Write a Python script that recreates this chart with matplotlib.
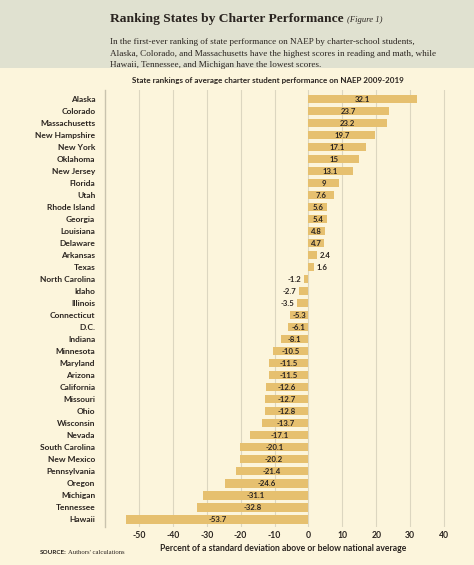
import matplotlib.pyplot as plt

states = ["Alaska", "Colorado", "Massachusetts", "New Hampshire", "New York", "Oklahoma",
          "New Jersey", "Florida", "Utah", "Rhode Island", "Georgia", "Louisiana",
          "Delaware", "Arkansas", "Texas", "North Carolina", "Idaho", "Illinois",
          "Connecticut", "D.C.", "Indiana", "Minnesota", "Maryland", "Arizona",
          "California", "Missouri", "Ohio", "Wisconsin", "Nevada", "South Carolina",
          "New Mexico", "Pennsylvania", "Oregon", "Michigan", "Tennessee", "Hawaii"]
scores = [32.1, 23.7, 23.2, 19.7, 17.1, 15, 13.1, 9, 7.6, 5.6, 5.4, 4.8, 4.7, 2.4, 1.6,
          -1.2, -2.7, -3.5, -5.3, -6.1, -8.1, -10.5, -11.5, -11.5, -12.6, -12.7, -12.8,
          -13.7, -17.1, -20.1, -20.2, -21.4, -24.6, -31.1, -32.8, -53.7]
score_labels = ["32.1", "23.7", "23.2", "19.7", "17.1", "15", "13.1", "9", "7.6", "5.6",
                "5.4", "4.8", "4.7", "2.4", "1.6", "-1.2", "-2.7", "-3.5", "-5.3", "-6.1",
                "-8.1", "-10.5", "-11.5", "-11.5", "-12.6", "-12.7", "-12.8", "-13.7",
                "-17.1", "-20.1", "-20.2", "-21.4", "-24.6", "-31.1", "-32.8", "-53.7"]
xticks = [-50, -40, -30, -20, -10, 0, 10, 20, 30, 40]

cream = "#fcf5dc"
band = "#e0e1d0"
bar_color = "#e6c06f"
dark = "#2a2420"
sans = "Lato"
serif = "Liberation Serif"

fig = plt.figure(figsize=(4.74, 5.65), dpi=100, facecolor=cream)

# header band
fig.patches.append(plt.Rectangle((0, 1 - 68 / 565), 1, 68 / 565, transform=fig.transFigure,
                                 facecolor=band, edgecolor="none", zorder=0))
title = fig.text(110 / 474, 1 - 19 / 565, "Ranking States by Charter Performance",
                 fontfamily=serif, fontweight="bold", fontsize=9.7, color=dark, va="center")
fig.canvas.draw()
bb = title.get_window_extent()
fig.text((bb.x1 + 3) / 474, 1 - 20 / 565, "(Figure 1)", fontfamily=serif, style="italic",
         fontsize=6.2, color=dark, va="center")
subtitle = ("In the first-ever ranking of state performance on NAEP by charter-school students,\n"
            "Alaska, Colorado, and Massachusetts have the highest scores in reading and math, while\n"
            "Hawaii, Tennessee, and Michigan have the lowest scores.")
fig.text(110 / 474, 1 - 38 / 565, subtitle, fontfamily=serif, fontsize=6.6, color=dark,
         va="top", linespacing=1.6)
fig.text(268 / 474, 1 - 80 / 565,
         "State rankings of average charter student performance on NAEP 2009-2019",
         fontfamily=sans, fontweight="bold", fontsize=5.8, color=dark, ha="center", va="center")

ax = fig.add_axes([105 / 474, 1 - 527 / 565, 356 / 474, 437 / 565])
ax.set_facecolor(cream)
pos = list(range(len(states)))
ax.barh(pos, scores, height=0.72, color=bar_color, zorder=2)
ax.set_xlim(-60, 45)
ax.set_ylim(len(states) - 0.35, -0.75)

for p, v, lab in zip(pos, scores, score_labels):
    if abs(v) >= 4:
        ax.text(v / 2, p, lab, ha="center", va="center", fontfamily=sans, fontweight="bold",
                fontsize=5.6, color=dark, zorder=3)
    elif v > 0:
        ax.text(v + 0.8, p, lab, ha="left", va="center", fontfamily=sans, fontweight="bold",
                fontsize=5.6, color=dark, zorder=3)
    else:
        ax.text(v - 0.8, p, lab, ha="right", va="center", fontfamily=sans, fontweight="bold",
                fontsize=5.6, color=dark, zorder=3)

ax.set_yticks(pos)
ax.set_yticklabels(states, fontfamily=sans, fontweight="bold", fontsize=6, color=dark)
ax.set_xticks(xticks)
ax.set_xticklabels([str(t) for t in xticks], fontfamily=sans, fontweight="bold",
                   fontsize=6.2, color=dark)
ax.tick_params(length=0, pad=3)
ax.tick_params(axis="y", pad=7)
ax.grid(axis="x", color="#dcd6c0", linewidth=0.8, zorder=0)
for s in ["top", "right", "bottom"]:
    ax.spines[s].set_visible(False)
ax.spines["left"].set_color("#c9c3ae")
ax.spines["left"].set_linewidth(1)
ax.set_xlabel("Percent of a standard deviation above or below national average",
              fontfamily=sans, fontweight="bold", fontsize=6.2, color=dark, labelpad=3)

fig.text(40 / 474, 1 - 553 / 565, "SOURCE:", fontfamily=sans, fontweight="bold",
         fontsize=4.6, color=dark, va="center")
fig.text(68 / 474, 1 - 553 / 565, "Authors' calculations", fontfamily=serif,
         fontsize=4.8, color=dark, va="center")

fig.savefig("out.png", dpi=100, facecolor=cream)
